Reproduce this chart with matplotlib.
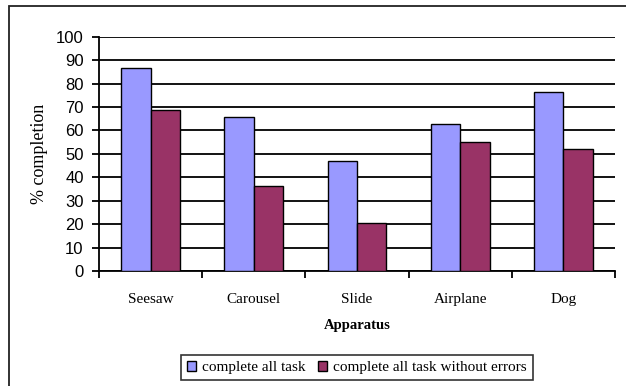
import matplotlib
matplotlib.use("Agg")
import matplotlib.pyplot as plt
from matplotlib.patches import Rectangle
import numpy as np

categories = ["Seesaw", "Carousel", "Slide", "Airplane", "Dog"]
complete_all = [86.5, 65.6, 47.1, 62.7, 76.4]
complete_no_errors = [68.7, 36.4, 20.6, 54.9, 51.9]
series_names = ["complete all task", "complete all task without errors"]
y_ticks = list(range(0, 101, 10))

BLUE = "#9999FF"
PLUM = "#993366"

fig = plt.figure(figsize=(6.26, 3.86), dpi=100)
W, H = 626, 386

# outer chart frame
fig.patches.append(Rectangle((9 / W, -0.05), 1.2, 1 - 6 / H + 0.05,
                             transform=fig.transFigure, fill=False,
                             edgecolor="#222222", linewidth=1.3))

ax = fig.add_axes([99 / W, 1 - 271 / H, (615 - 99) / W, (271 - 36.7) / H])

x = np.arange(len(categories))
bw = 1 / 3.5
ax.bar(x - bw / 2, complete_all, bw, color=BLUE, edgecolor="black",
       linewidth=1.0, label=series_names[0], zorder=3)
ax.bar(x + bw / 2, complete_no_errors, bw, color=PLUM, edgecolor="black",
       linewidth=1.0, label=series_names[1], zorder=3)

ax.set_xlim(-0.5, len(categories) - 0.5)
ax.set_ylim(0, 100)
ax.set_yticks(y_ticks)
ax.set_yticklabels([str(v) for v in y_ticks], family="Liberation Sans", fontsize=12)
ax.yaxis.grid(True, color="black", linewidth=1.3, zorder=0)
ax.set_axisbelow(True)

ax.set_xticks(x)
ax.set_xticklabels(categories, family="Liberation Serif", fontsize=11)
ax.tick_params(axis="x", length=0, pad=16)
# category boundary ticks
ax.set_xticks(np.arange(-0.5, len(categories), 1), minor=True)
ax.tick_params(axis="x", which="minor", length=5, width=1.3, direction="out")
ax.tick_params(axis="y", length=5, width=1.3, direction="out", pad=6)

for s in ["top", "right"]:
    ax.spines[s].set_visible(False)
for s in ["left", "bottom"]:
    ax.spines[s].set_linewidth(1.3)

ax.set_ylabel("% completion", family="Liberation Serif", fontsize=13, labelpad=6)
ax.set_xlabel("Apparatus", family="Liberation Serif", fontsize=10.5,
              fontweight="bold", labelpad=9)

leg = fig.legend(loc="center", bbox_to_anchor=(357 / W, 1 - 367.5 / H), ncol=2,
                 prop={"family": "Liberation Serif", "size": 11},
                 frameon=True, fancybox=False, edgecolor="black",
                 handlelength=0.6, handleheight=0.6, handletextpad=0.4,
                 columnspacing=0.8, borderpad=0.4)
leg.get_frame().set_linewidth(1.2)

fig.savefig("out.png", dpi=100)
